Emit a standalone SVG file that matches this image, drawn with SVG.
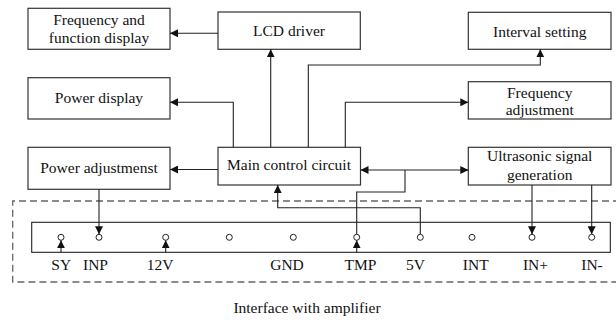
<svg xmlns="http://www.w3.org/2000/svg" width="616" height="323" viewBox="0 0 616 323">
<style>
  .box{fill:#fff;stroke:#333;stroke-width:1.2}
  .t{font-family:"Liberation Serif","Times New Roman",serif;font-size:15.5px;fill:#111;text-anchor:middle}
  .ln{fill:none;stroke:#222;stroke-width:1.1}
  .dash{fill:none;stroke:#666;stroke-width:1.3;stroke-dasharray:7 4}
  .pin{fill:#fff;stroke:#222;stroke-width:1}
</style>
<defs>
  <marker id="ah" viewBox="0 0 10 10" refX="10" refY="5" markerWidth="8" markerHeight="8" markerUnits="userSpaceOnUse" orient="auto-start-reverse">
    <path d="M0,0 L10,5 L0,10 z" fill="#111"/>
  </marker>
</defs>
<rect width="616" height="323" fill="#fff"/>

<g id="interface">
  <path class="dash" d="M620,201 H12.7 V282 H620"/>
  <rect x="31.7" y="222.3" width="578.6" height="30" fill="none" stroke="#222" stroke-width="1.1"/>
  <text class="t" x="307" y="313">Interface with amplifier</text>
</g>

<g id="freq-func-display">
  <rect class="box" x="28" y="8.3" width="142" height="41"/>
  <text class="t" x="99" y="24.5">Frequency and</text>
  <text class="t" x="99" y="43">function display</text>
</g>
<g id="lcd-driver">
  <rect class="box" x="218" y="12" width="142.3" height="37.3"/>
  <text class="t" x="289" y="36">LCD driver</text>
</g>
<g id="interval-setting">
  <rect class="box" x="468.3" y="12.3" width="142.7" height="37"/>
  <text class="t" x="539.7" y="36.5">Interval setting</text>
</g>
<g id="power-display">
  <rect class="box" x="28" y="77.7" width="142" height="41.3"/>
  <text class="t" x="99" y="103.3">Power display</text>
</g>
<g id="freq-adjust">
  <rect class="box" x="468.3" y="81.7" width="142.7" height="37.3"/>
  <text class="t" x="539.7" y="97.5">Frequency</text>
  <text class="t" x="539.7" y="114.5">adjustment</text>
</g>
<g id="power-adjust">
  <rect class="box" x="28" y="147.3" width="142" height="42"/>
  <text class="t" x="99" y="173.3">Power adjustmenst</text>
</g>
<g id="main-control">
  <rect class="box" x="218" y="147.3" width="142.5" height="37.7"/>
  <text class="t" x="289" y="170">Main control circuit</text>
</g>
<g id="ultrasonic">
  <rect class="box" x="468.3" y="147.3" width="142.7" height="37.7"/>
  <text class="t" x="539.7" y="160.5">Ultrasonic signal</text>
  <text class="t" x="539.7" y="179.5">generation</text>
</g>

<g id="connectors">
  <path class="ln" d="M218,33.3 H170" marker-end="url(#ah)"/>
  <path class="ln" d="M233.3,147.3 V102.3 H170" marker-end="url(#ah)"/>
  <path class="ln" d="M270.7,147.3 V49.3" marker-end="url(#ah)"/>
  <path class="ln" d="M308.3,147.3 V65 H540.3 V49.3" marker-end="url(#ah)"/>
  <path class="ln" d="M345.3,147.3 V102.3 H468.3" marker-end="url(#ah)"/>
  <path class="ln" d="M218,169.5 H170" marker-end="url(#ah)"/>
  <path class="ln" d="M360.5,170 H468.3" marker-start="url(#ah)" marker-end="url(#ah)"/>
  <path class="ln" d="M405,170 V192 H356.7 V234.3"/>
  <path class="ln" d="M420.3,234.3 V207.7 H277.7 V185" marker-end="url(#ah)"/>
  <path class="ln" d="M99,189.3 V234.3" marker-end="url(#ah)"/>
  <path class="ln" d="M532,185 V234.3" marker-end="url(#ah)"/>
  <path class="ln" d="M591.7,185 V234.3" marker-end="url(#ah)"/>
  <path class="ln" d="M61,252.3 V240.3" marker-end="url(#ah)"/>
  <path class="ln" d="M165.7,252.3 V240.3" marker-end="url(#ah)"/>
  <path class="ln" d="M356.7,252.3 V240.3" marker-end="url(#ah)"/>
</g>

<g id="pins">
  <circle class="pin" cx="61" cy="237.3" r="3"/>
  <circle class="pin" cx="99" cy="237.3" r="3"/>
  <circle class="pin" cx="165.7" cy="237.3" r="3"/>
  <circle class="pin" cx="229.3" cy="237.3" r="3"/>
  <circle class="pin" cx="293.3" cy="237.3" r="3"/>
  <circle class="pin" cx="356.7" cy="237.3" r="3"/>
  <circle class="pin" cx="420.3" cy="237.3" r="3"/>
  <circle class="pin" cx="472" cy="237.3" r="3"/>
  <circle class="pin" cx="532" cy="237.3" r="3"/>
  <circle class="pin" cx="591.7" cy="237.3" r="3"/>
  <text class="t" x="61.2" y="270">SY</text>
  <text class="t" x="95.5" y="270">INP</text>
  <text class="t" x="160" y="270">12V</text>
  <text class="t" x="287" y="270">GND</text>
  <text class="t" x="360.5" y="270">TMP</text>
  <text class="t" x="415.5" y="270">5V</text>
  <text class="t" x="475.7" y="270">INT</text>
  <text class="t" x="535.5" y="270">IN+</text>
  <text class="t" x="592" y="270">IN-</text>
</g>
</svg>
